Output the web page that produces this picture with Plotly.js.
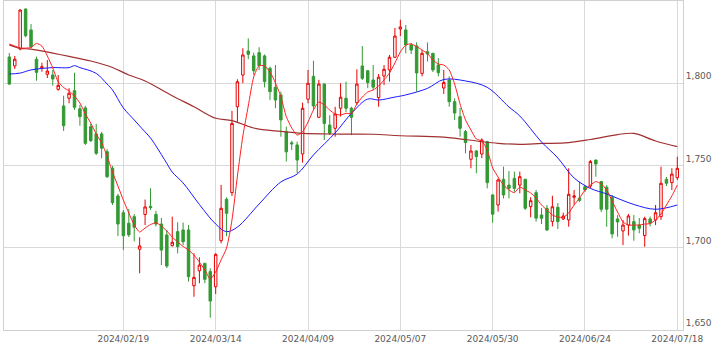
<!DOCTYPE html>
<html><head><meta charset="utf-8">
<script src="https://cdn.plot.ly/plotly-3.0.1.min.js"></script>
<style>html,body{margin:0;padding:0;background:#fff}#c{width:723px;height:351px}</style>
</head><body><div id="c"></div>
<script>
const dates = [
'2024/01/18','2024/01/19','2024/01/22','2024/01/23','2024/01/24','2024/01/25','2024/01/26','2024/01/29','2024/01/30','2024/01/31',
'2024/02/01','2024/02/02','2024/02/05','2024/02/06','2024/02/07','2024/02/08','2024/02/09','2024/02/13','2024/02/14','2024/02/15',
'2024/02/16','2024/02/19','2024/02/20','2024/02/21','2024/02/22','2024/02/26','2024/02/27','2024/02/28','2024/02/29','2024/03/01',
'2024/03/04','2024/03/05','2024/03/06','2024/03/07','2024/03/08','2024/03/11','2024/03/12','2024/03/13','2024/03/14','2024/03/15',
'2024/03/18','2024/03/19','2024/03/21','2024/03/22','2024/03/25','2024/03/26','2024/03/27','2024/03/28','2024/03/29','2024/04/01',
'2024/04/02','2024/04/03','2024/04/04','2024/04/05','2024/04/08','2024/04/09','2024/04/10','2024/04/11','2024/04/12','2024/04/15',
'2024/04/16','2024/04/17','2024/04/18','2024/04/19','2024/04/22','2024/04/23','2024/04/24','2024/04/25','2024/04/26','2024/04/30',
'2024/05/01','2024/05/02','2024/05/07','2024/05/08','2024/05/09','2024/05/10','2024/05/13','2024/05/14','2024/05/15','2024/05/16',
'2024/05/17','2024/05/20','2024/05/21','2024/05/22','2024/05/23','2024/05/24','2024/05/27','2024/05/28','2024/05/29','2024/05/30',
'2024/05/31','2024/06/03','2024/06/04','2024/06/05','2024/06/06','2024/06/07','2024/06/10','2024/06/11','2024/06/12','2024/06/13',
'2024/06/14','2024/06/17','2024/06/18','2024/06/19','2024/06/20','2024/06/21','2024/06/24','2024/06/25','2024/06/26','2024/06/27',
'2024/06/28','2024/07/01','2024/07/02','2024/07/03','2024/07/04','2024/07/05','2024/07/08','2024/07/09','2024/07/10','2024/07/11',
'2024/07/12','2024/07/16','2024/07/17','2024/07/18'];

const openP = [1816.0,1810.5,1820.8,1845.1,1832.4,1814.6,1809.4,1805.4,1805.0,1796.3,
1786.2,1790.9,1795.5,1784.5,1785.0,1773.6,1769.2,1769.2,1758.4,1748.3,
1731.5,1721.3,1714.9,1718.9,1699.1,1720.2,1725.2,1720.3,1714.4,1707.8,
1701.3,1709.8,1710.8,1710.8,1676.9,1686.0,1690.5,1685.5,1676.3,1704.3,
1729.5,1733.5,1785.7,1805.0,1819.6,1816.6,1818.6,1816.6,1809.1,1797.5,
1792.9,1770.5,1763.8,1762.5,1757.0,1790.3,1804.2,1779.3,1799.5,1774.6,
1772.6,1784.8,1790.9,1784.8,1788.2,1810.5,1807.6,1802.0,1791.3,1804.4,
1808.1,1815.8,1833.0,1832.4,1823.3,1822.7,1806.0,1819.2,1818.2,1811.1,
1797.1,1802.0,1788.8,1779.7,1770.6,1753.8,1758.8,1757.0,1764.5,1732.1,
1726.0,1741.6,1738.1,1742.2,1738.1,1741.6,1725.0,1733.5,1719.9,1724.0,
1716.0,1724.6,1717.5,1716.9,1730.7,1730.2,1737.1,1737.5,1753.3,1740.2,
1736.8,1730.7,1717.5,1710.2,1713.8,1715.9,1713.8,1707.4,1717.5,1716.9,
1718.9,1741.6,1739.6,1742.6];
const highP = [1818.4,1816.6,1845.0,1845.5,1836.0,1816.2,1812.5,1814.1,1808.1,1805.0,
1792.4,1797.0,1806.4,1786.8,1786.2,1775.3,1775.3,1770.4,1760.0,1749.7,
1732.8,1722.9,1723.6,1720.5,1706.4,1729.3,1736.1,1722.5,1718.1,1710.8,
1718.9,1715.5,1715.3,1713.8,1696.6,1694.2,1690.9,1687.5,1696.6,1738.2,
1730.7,1783.2,1802.4,1821.3,1827.3,1818.6,1821.9,1817.5,1810.1,1811.1,
1794.9,1773.6,1765.0,1764.5,1788.2,1808.1,1813.7,1802.1,1800.0,1780.6,
1785.7,1800.0,1801.0,1785.7,1808.5,1822.6,1808.0,1811.1,1805.6,1811.1,
1817.2,1833.6,1838.6,1835.4,1824.5,1824.9,1820.2,1824.7,1818.4,1815.3,
1808.1,1804.2,1790.9,1785.0,1771.6,1762.5,1759.4,1766.5,1765.0,1732.6,
1742.2,1749.3,1746.7,1746.3,1746.3,1742.0,1730.7,1735.1,1724.2,1726.0,
1731.6,1727.2,1721.3,1748.3,1735.1,1740.2,1738.1,1753.4,1753.6,1740.6,
1738.1,1732.1,1719.8,1716.9,1720.5,1719.9,1718.1,1718.9,1719.0,1726.0,
1749.3,1743.0,1748.3,1755.4];
const lowP = [1799.0,1808.7,1820.0,1828.0,1821.5,1801.5,1807.0,1803.2,1798.5,1795.5,
1771.0,1787.8,1783.8,1774.2,1762.5,1764.3,1756.4,1754.4,1742.4,1726.0,
1707.1,1698.6,1706.5,1703.9,1684.5,1713.8,1723.0,1713.0,1689.5,1687.7,
1700.7,1696.6,1701.7,1679.4,1670.2,1678.4,1678.4,1657.5,1671.9,1702.7,
1707.0,1731.5,1775.8,1800.0,1814.6,1805.0,1808.0,1797.5,1789.8,1784.8,
1767.5,1752.4,1759.4,1745.3,1751.7,1787.8,1784.0,1778.9,1765.5,1768.5,
1767.5,1779.7,1782.5,1768.5,1786.8,1802.0,1797.0,1796.0,1785.7,1798.9,
1801.0,1815.4,1828.7,1818.2,1817.8,1794.9,1804.2,1813.2,1806.8,1804.2,
1793.5,1785.7,1777.7,1767.5,1757.4,1748.3,1745.3,1754.4,1736.1,1715.2,
1722.0,1730.0,1730.0,1734.0,1733.1,1723.0,1718.5,1715.9,1714.4,1710.2,
1713.0,1711.4,1716.9,1712.8,1726.0,1727.8,1733.9,1736.3,1743.2,1721.7,
1712.8,1705.7,1706.7,1701.6,1707.4,1704.3,1708.8,1700.6,1713.0,1713.8,
1716.9,1737.5,1735.1,1741.2];
const closeP = [1799.5,1814.6,1844.5,1828.9,1822.2,1806.6,1810.0,1807.4,1802.6,1798.7,
1774.2,1793.9,1785.4,1779.7,1763.5,1765.1,1757.4,1760.5,1743.2,1727.4,
1714.4,1707.3,1707.8,1712.5,1701.1,1724.8,1724.4,1714.4,1698.6,1688.9,
1703.3,1700.7,1703.7,1682.4,1682.0,1689.5,1680.8,1667.6,1696.0,1724.0,
1720.9,1775.6,1800.9,1817.2,1817.6,1807.6,1810.7,1801.0,1794.9,1789.8,
1777.7,1758.3,1763.2,1753.3,1784.8,1800.0,1786.2,1799.5,1775.6,1769.6,
1781.3,1791.5,1784.8,1779.3,1799.5,1803.0,1800.4,1797.6,1803.7,1808.5,
1815.8,1828.7,1834.2,1823.3,1820.2,1806.3,1818.2,1817.8,1808.1,1806.4,
1800.5,1788.8,1781.9,1772.6,1763.9,1758.8,1755.4,1765.5,1739.6,1720.4,
1741.2,1732.1,1736.1,1736.1,1743.2,1724.0,1728.6,1718.0,1717.9,1710.8,
1724.9,1715.9,1719.3,1732.5,1731.5,1728.8,1735.1,1752.4,1750.9,1723.4,
1723.4,1708.4,1715.7,1713.8,1719.3,1710.8,1711.8,1717.7,1715.0,1721.3,
1739.2,1739.2,1744.8,1748.3];

// short moving average (red), read at every session
const maShort = [1823.9,1822.6,1821.4,1821.4,1821.7,1824.2,1822.6,1816.6,1809.3,1800.8,
1797.4,1795.3,1792.2,1788.0,1781.3,1775.8,1769.1,1763.7,1755.8,1746.0,
1737.5,1729.0,1721.1,1713.8,1709.6,1712.0,1714.1,1715.2,1713.2,1710.2,
1706.5,1703.5,1700.8,1698.6,1695.6,1691.3,1686.5,1681.0,1685.3,1692.6,
1699.8,1716.9,1743.6,1767.9,1786.2,1803.8,1810.7,1810.5,1806.8,1800.2,
1791.8,1779.7,1772.8,1768.5,1770.5,1776.4,1783.7,1788.6,1786.8,1783.7,
1781.3,1780.7,1781.7,1781.6,1787.4,1791.6,1794.7,1795.9,1798.3,1802.0,
1806.2,1812.3,1819.0,1823.3,1823.9,1822.3,1820.2,1818.1,1814.1,1811.7,
1811.1,1808.1,1799.5,1787.4,1777.7,1771.6,1766.1,1764.9,1759.4,1748.5,
1743.0,1738.1,1735.1,1733.5,1736.9,1735.1,1733.3,1730.2,1726.0,1722.9,
1719.9,1718.7,1718.5,1721.1,1726.0,1730.2,1735.1,1738.1,1740.2,1738.8,
1735.1,1728.4,1721.7,1715.7,1713.8,1713.8,1713.8,1714.4,1714.7,1716.9,
1720.5,1726.0,1731.5,1738.1];

// medium moving average (blue), read at sample sessions
const maMidDates = ['2024/01/18','2024/01/22','2024/01/24','2024/01/30','2024/02/02','2024/02/05','2024/02/06','2024/02/09',
'2024/02/14','2024/02/15','2024/02/19','2024/02/21','2024/02/22','2024/02/27','2024/02/28','2024/03/01','2024/03/04','2024/03/06',
'2024/03/11','2024/03/14','2024/03/18','2024/03/21','2024/03/27','2024/04/02','2024/04/05','2024/04/10','2024/04/16','2024/04/19',
'2024/04/24','2024/04/26','2024/05/02','2024/05/08','2024/05/14','2024/05/17','2024/05/23','2024/05/29','2024/06/04','2024/06/06',
'2024/06/12','2024/06/17','2024/06/20','2024/06/25','2024/06/28','2024/07/05','2024/07/11','2024/07/18'];
const maMid = [1805.6,1806.2,1808.1,1809.5,1809.5,1810.7,1809.5,1806.0,
1799.5,1795.9,1785.0,1777.7,1774.0,1766.7,1761.9,1751.3,1746.0,1739.4,
1726.3,1714.4,1709.8,1712.6,1726.6,1740.0,1744.8,1756.4,1769.8,1781.7,
1790.4,1789.8,1791.6,1792.9,1796.9,1802.3,1801.4,1797.5,1785.6,1780.1,
1764.3,1754.6,1742.4,1736.1,1732.7,1726.3,1723.4,1726.0];

// long moving average (dark red), read at sample sessions
const maLongDates = ['2024/01/18','2024/01/22','2024/01/24','2024/01/30','2024/02/02','2024/02/08','2024/02/15','2024/02/20',
'2024/02/26','2024/03/04','2024/03/08','2024/03/14','2024/03/19','2024/03/26','2024/04/02','2024/04/08','2024/04/17','2024/04/25',
'2024/05/07','2024/05/17','2024/05/28','2024/05/31','2024/06/06','2024/06/12','2024/06/19','2024/06/25','2024/07/02','2024/07/05',
'2024/07/11','2024/07/18'];
const maLong = [1823.3,1821.2,1820.8,1818.3,1816.3,1813.5,1809.6,1805.0,
1801.4,1792.4,1785.7,1778.7,1777.3,1772.8,1770.7,1769.5,1769.1,1769.0,
1768.1,1767.3,1764.5,1763.5,1762.9,1763.4,1763.9,1765.8,1768.8,1769.5,
1764.9,1761.5];

const tickDates = ['2024/02/19','2024/03/14','2024/04/09','2024/05/07','2024/05/30','2024/06/24','2024/07/18'];
const priceTicks = [1650,1700,1750,1800];

const GREEN = '#339933', RED = '#e60000';
const traces = [
  {type:'candlestick', x:dates, open:openP, high:highP, low:lowP, close:closeP,
   increasing:{line:{color:RED,width:1}, fillcolor:'#ffffff'},
   decreasing:{line:{color:GREEN,width:1}, fillcolor:GREEN},
   whiskerwidth:0, hoverinfo:'skip', showlegend:false},
  {type:'scatter', mode:'lines', x:maLongDates, y:maLong, line:{color:'#a03030', width:1.2, shape:'spline', smoothing:1}, hoverinfo:'skip', showlegend:false},
  {type:'scatter', mode:'lines', x:maMidDates, y:maMid, line:{color:'#1a1aff', width:1, shape:'spline', smoothing:1}, hoverinfo:'skip', showlegend:false},
  {type:'scatter', mode:'lines', x:dates, y:maShort, line:{color:'#ff2020', width:1, shape:'spline', smoothing:0.6}, hoverinfo:'skip', showlegend:false}
];

const layout = {
  width:723, height:351,
  margin:{l:4, r:40, t:1, b:21, pad:0},
  paper_bgcolor:'#ffffff', plot_bgcolor:'#ffffff',
  font:{family:'DejaVu Sans, Verdana, sans-serif', size:9, color:'#5a5a5a'},
  showlegend:false,
  boxgap:0.35,
  xaxis:{type:'category', categoryorder:'array', categoryarray:dates,
    range:[-0.98, 124.05], autorange:false,
    rangeslider:{visible:false},
    tickmode:'array', tickvals:tickDates, ticktext:tickDates,
    showgrid:true, gridcolor:'#d9d9d9', gridwidth:1,
    showline:true, linecolor:'#d0d0d0', linewidth:1, mirror:true,
    ticks:'', zeroline:false, fixedrange:true,
    tickfont:{family:'DejaVu Sans, Verdana, sans-serif', size:9, color:'#5a5a5a'}},
  yaxis:{side:'right', range:[1650,1850], autorange:false,
    tickmode:'array', tickvals:priceTicks, tickformat:',d',
    ticklabelshift:-7,
    showgrid:true, gridcolor:'#d9d9d9', gridwidth:1,
    showline:true, linecolor:'#d0d0d0', linewidth:1, mirror:true,
    ticks:'', zeroline:false, fixedrange:true,
    tickfont:{family:'DejaVu Sans, Verdana, sans-serif', size:9, color:'#5a5a5a'}}
};

Plotly.newPlot('c', traces, layout, {displayModeBar:false, staticPlot:true});
</script>
</body></html>
